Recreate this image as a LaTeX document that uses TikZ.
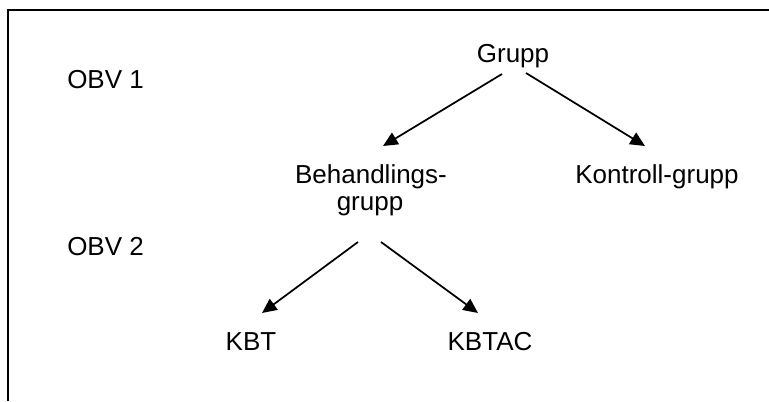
\documentclass[tikz,border=0pt]{standalone}
\usepackage{fontspec}
\setmainfont{Liberation Sans}
\usetikzlibrary{arrows.meta}
\begin{document}
\begin{tikzpicture}[x=0.75pt,y=-0.75pt,
  lbl/.style={font=\fontsize{19.5}{27}\selectfont, inner sep=0pt, anchor=base},
  edge/.style={line width=1.3pt, -{Triangle[length=11pt,width=10pt]}},
  frame/.style={line width=1.7pt}]
\useasboundingbox (0,0) rectangle (769,401);
% open frame: top and left sides only
\draw[frame] (8,401) -- (8,10) -- (769,10);
% level labels
\node[lbl, anchor=base west] (obv1) at (67,88) {OBV 1};
\node[lbl, anchor=base west] (obv2) at (67,255) {OBV 2};
% tree nodes
\node[lbl] (grupp) at (513,62) {Grupp};
\node[lbl] (beh) at (371,183) {Behandlings-};
\node[lbl] (beh2) at (370,210) {grupp};
\node[lbl] (kontroll) at (657,183) {Kontroll-grupp};
\node[lbl] (kbt) at (251,350) {KBT};
\node[lbl] (kbtac) at (490,350) {KBTAC};
% connector end points
\coordinate (g1) at (502,74);  \coordinate (b1) at (383,146);
\coordinate (g2) at (526,73);  \coordinate (k1) at (645,146);
\coordinate (h1) at (358,242); \coordinate (t1) at (262,313);
\coordinate (h2) at (381,242); \coordinate (t2) at (478,313);
\draw[edge] (g1) -- (b1);
\draw[edge] (g2) -- (k1);
\draw[edge] (h1) -- (t1);
\draw[edge] (h2) -- (t2);
\end{tikzpicture}
\end{document}
